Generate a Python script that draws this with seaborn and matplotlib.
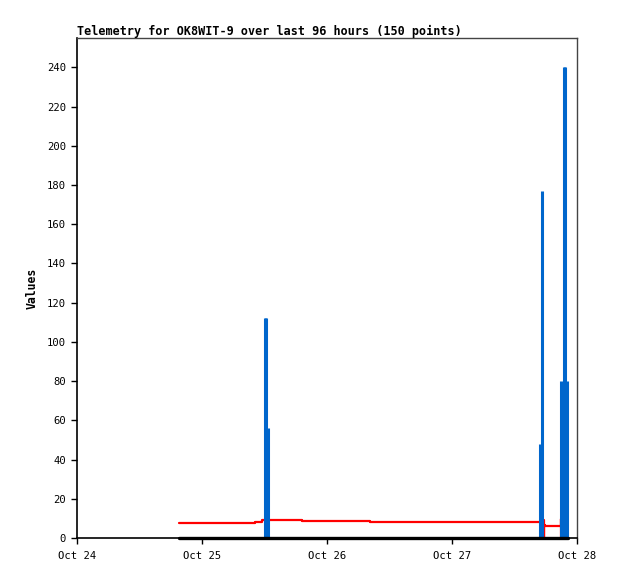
import pandas as pd
import seaborn as sns
import matplotlib.pyplot as plt
import matplotlib.dates as mdates

# hours since Oct 24 00:00
start = pd.Timestamp('2024-10-24')

red_hours = [19.6, 34.2, 35.5, 43.2, 56.3, 89.55, 89.62, 89.7, 89.85, 92.9, 93.0, 93.1]
red_vals = [7.8, 8.4, 9.0, 8.7, 8.0, 9.0, 0.0, 6.5, 6.0, 9.5, 0.0, 0.0]

black_hours = [19.6, 94.2]
black_vals = [0.0, 0.0]

blue_hours = [36.1, 36.3, 36.6, 88.95, 89.3, 92.85, 93.5, 93.7, 94.1]
blue_vals = [112, 112, 56, 48, 177, 80, 240, 240, 80]

yticks = list(range(0, 241, 20))

red = pd.DataFrame({'Time': start + pd.to_timedelta(red_hours, unit='h'), 'Value': red_vals})
black = pd.DataFrame({'Time': start + pd.to_timedelta(black_hours, unit='h'), 'Value': black_vals})
blue = pd.DataFrame({'Time': start + pd.to_timedelta(blue_hours, unit='h'), 'Value': blue_vals})

sns.set_style('white')
plt.rcParams['font.family'] = ['DejaVu Sans Mono']
plt.rcParams['text.color'] = 'black'
plt.rcParams['axes.labelcolor'] = 'black'

fig = plt.figure(figsize=(6.18, 5.79), dpi=100)
ax = fig.add_axes([0.1246, 0.0708, 0.8091, 0.8636])

sns.lineplot(data=red, x='Time', y='Value', color='#ff0000', linewidth=1.6,
             estimator=None, sort=False, drawstyle='steps-post', ax=ax, zorder=3)
ax.vlines(blue['Time'], 0, blue['Value'], color='#0066cc', linewidth=2.2, zorder=4)
sns.lineplot(data=black, x='Time', y='Value', color='black', linewidth=2.4,
             estimator=None, sort=False, ax=ax, zorder=5, clip_on=False)

ax.set_xlim(start, start + pd.Timedelta(days=4))
ax.set_ylim(0, 255)
ax.set_yticks(yticks)
ax.xaxis.set_major_locator(mdates.DayLocator())
ax.xaxis.set_major_formatter(mdates.DateFormatter('%b %d'))

ax.set_title('Telemetry for OK8WIT-9 over last 96 hours (150 points)', loc='left',
             fontsize=8.45, fontweight='bold', pad=2, color='black')
ax.set_xlabel('')
ax.set_ylabel('Values', fontsize=8.3, fontweight='bold', labelpad=6)

ax.tick_params(axis='both', labelsize=7.6, direction='out', length=4.5, width=1,
               colors='black', left=True, bottom=True)
ax.tick_params(axis='x', pad=5)
for side in ['left', 'bottom']:
    ax.spines[side].set_color('black')
    ax.spines[side].set_linewidth(1.2)
for side in ['top', 'right']:
    ax.spines[side].set_color('#444444')
    ax.spines[side].set_linewidth(1)

plt.savefig('out.png', dpi=100)
